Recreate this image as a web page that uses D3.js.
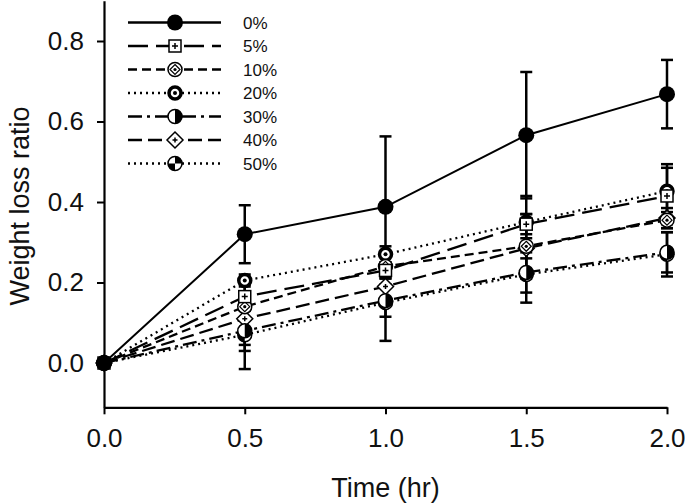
<!DOCTYPE html>
<html>
<head>
<meta charset="utf-8">
<script src="https://cdn.jsdelivr.net/npm/d3@7"></script>
<style>
  body { margin: 0; background: #fff; }
  svg { display: block; font-family: "Liberation Sans", Arial, sans-serif; }
</style>
</head>
<body>
<svg id="chart" width="685" height="503"></svg>
<script>
// ---- data ----
const times = [0, 0.5, 1.0, 1.5, 2.0];
const seriesNames = ["0%", "5%", "10%", "20%", "30%", "40%", "50%"];
const v0  = [0, 0.320, 0.388, 0.566, 0.668];
const e0  = [0, 0.072, 0.175, 0.157, 0.085];
const v5  = [0, 0.165, 0.230, 0.345, 0.415];
const e5  = [0, 0.030, 0.020, 0.025, 0.070];
const v10 = [0, 0.140, 0.240, 0.290, 0.355];
const e10 = [0, 0.070, 0.030, 0.080, 0.020];
const v20 = [0, 0.205, 0.270, 0.350, 0.427];
const e20 = [0, 0.015, 0.020, 0.065, 0.067];
const v30 = [0, 0.080, 0.155, 0.225, 0.275];
const e30 = [0, 0.050, 0.040, 0.050, 0.050];
const v40 = [0, 0.110, 0.190, 0.285, 0.360];
const e40 = [0, 0.065, 0.030, 0.025, 0.025];
const v50 = [0, 0.070, 0.150, 0.220, 0.270];
const e50 = [0, 0.085, 0.095, 0.070, 0.055];
const xTicks = [0, 0.5, 1.0, 1.5, 2.0];
const yTicks = [0, 0.2, 0.4, 0.6, 0.8];
const xTitle = "Time (hr)";
const yTitle = "Weight loss ratio";

const values = [v0, v5, v10, v20, v30, v40, v50];
const errors = [e0, e5, e10, e20, e30, e40, e50];
const dashes = ["none", "20,8", "9,5", "2,4", "14,5,3,5", "14,6", "2,4"];
const markers = ["filled", "squarePlus", "circleDiamond", "ring", "halfCircle", "diamond", "quarterCircle"];

const svg = d3.select("#chart");
const x = d3.scaleLinear().domain([0, 2]).range([104, 667]);
const y = d3.scaleLinear().domain([-0.11, 0.9]).range([407.3, 0.75]);

// axes
const xAxis = svg.append("g").attr("transform", `translate(0,${y(-0.11)})`)
  .call(d3.axisBottom(x).tickValues(xTicks).tickFormat(d3.format(".1f")).tickSize(7).tickSizeOuter(0).tickPadding(14));
const yAxis = svg.append("g").attr("transform", `translate(${x(0)},0)`)
  .call(d3.axisLeft(y).tickValues(yTicks).tickFormat(d3.format(".1f")).tickSize(7).tickSizeOuter(0).tickPadding(13));
[xAxis, yAxis].forEach(a => {
  a.select(".domain").attr("stroke", "#000").attr("stroke-width", 2.2);
  a.selectAll(".tick line").attr("stroke", "#000").attr("stroke-width", 2);
  a.selectAll(".tick text").attr("font-size", 26).attr("fill", "#111")
    .attr("font-family", "Liberation Sans, Arial, sans-serif");
});

svg.append("text").attr("x", (x(0) + x(2)) / 2).attr("y", 497)
  .attr("text-anchor", "middle").attr("font-size", 27).attr("fill", "#111").text(xTitle);
svg.append("text").attr("transform", `translate(29,${206}) rotate(-90)`)
  .attr("text-anchor", "middle").attr("font-size", 27).attr("fill", "#111").text(yTitle);

// marker drawing
function drawMarker(g, type) {
  const r = 7;
  if (type === "filled") {
    g.append("circle").attr("r", 8).attr("fill", "#000");
  } else if (type === "squarePlus") {
    g.append("rect").attr("x", -6).attr("y", -6).attr("width", 12).attr("height", 12)
      .attr("fill", "#fff").attr("stroke", "#000").attr("stroke-width", 1.5);
    g.append("path").attr("d", "M-3,0H3M0,-3V3").attr("stroke", "#000").attr("stroke-width", 1.5);
  } else if (type === "circleDiamond") {
    g.append("circle").attr("r", r).attr("fill", "#fff").attr("stroke", "#000").attr("stroke-width", 1.5);
    g.append("path").attr("d", "M0,-5L5,0L0,5L-5,0Z").attr("fill", "none").attr("stroke", "#000").attr("stroke-width", 1.2);
    g.append("circle").attr("r", 1.6).attr("fill", "#000");
  } else if (type === "ring") {
    g.append("circle").attr("r", 6).attr("fill", "#fff").attr("stroke", "#000").attr("stroke-width", 3.5);
    g.append("circle").attr("r", 2).attr("fill", "#000");
  } else if (type === "halfCircle") {
    g.append("circle").attr("r", r).attr("fill", "#fff").attr("stroke", "#000").attr("stroke-width", 1.5);
    g.append("path").attr("d", d3.arc()({innerRadius: 0, outerRadius: r, startAngle: 0, endAngle: Math.PI})).attr("fill", "#000");
  } else if (type === "diamond") {
    g.append("path").attr("d", "M0,-8L8,0L0,8L-8,0Z").attr("fill", "#fff").attr("stroke", "#000").attr("stroke-width", 1.5);
    g.append("path").attr("d", "M-2.5,0H2.5M0,-2.5V2.5").attr("stroke", "#000").attr("stroke-width", 1.5);
  } else if (type === "quarterCircle") {
    g.append("circle").attr("r", r).attr("fill", "#fff").attr("stroke", "#000").attr("stroke-width", 1.5);
    const arc = d3.arc();
    g.append("path").attr("d", arc({innerRadius: 0, outerRadius: r, startAngle: 0, endAngle: Math.PI / 2})).attr("fill", "#000");
    g.append("path").attr("d", arc({innerRadius: 0, outerRadius: r, startAngle: Math.PI, endAngle: 1.5 * Math.PI})).attr("fill", "#000");
  }
}

const line = d3.line().x((d, i) => x(times[i])).y(d => y(d));
const plot = svg.append("g");

// lines
values.forEach((vals, s) => {
  plot.append("path").datum(vals).attr("d", line)
    .attr("fill", "none").attr("stroke", "#000")
    .attr("stroke-width", s === 0 ? 2 : 2.3)
    .attr("stroke-dasharray", dashes[s]);
});
// error bars
values.forEach((vals, s) => {
  vals.forEach((v, i) => {
    const e = errors[s][i];
    if (!e) return;
    const cx = x(times[i]);
    const g = plot.append("g").attr("stroke", "#000").attr("stroke-width", 2.5);
    g.append("line").attr("x1", cx).attr("x2", cx).attr("y1", y(v - e)).attr("y2", y(v + e));
    g.append("line").attr("x1", cx - 6).attr("x2", cx + 6).attr("y1", y(v + e)).attr("y2", y(v + e));
    g.append("line").attr("x1", cx - 6).attr("x2", cx + 6).attr("y1", y(v - e)).attr("y2", y(v - e));
  });
});
// markers
for (let s = values.length - 1; s >= 0; s--) {
  values[s].forEach((v, i) => {
    const g = plot.append("g").attr("transform", `translate(${x(times[i])},${y(v)})`);
    drawMarker(g, markers[s]);
  });
}

// legend
const legY0 = 22.5, legStep = 23.5;
seriesNames.forEach((name, s) => {
  const ly = legY0 + s * legStep;
  const g = svg.append("g");
  g.append("line").attr("x1", 128).attr("x2", 221).attr("y1", ly).attr("y2", ly)
    .attr("stroke", "#000").attr("stroke-width", s === 0 ? 2.5 : 2.3).attr("stroke-dasharray", dashes[s]);
  drawMarker(g.append("g").attr("transform", `translate(175,${ly})`), markers[s]);
  g.append("text").attr("x", 243).attr("y", ly).attr("dy", "0.36em")
    .attr("font-size", 17).attr("fill", "#111").text(name);
});
</script>
</body>
</html>
